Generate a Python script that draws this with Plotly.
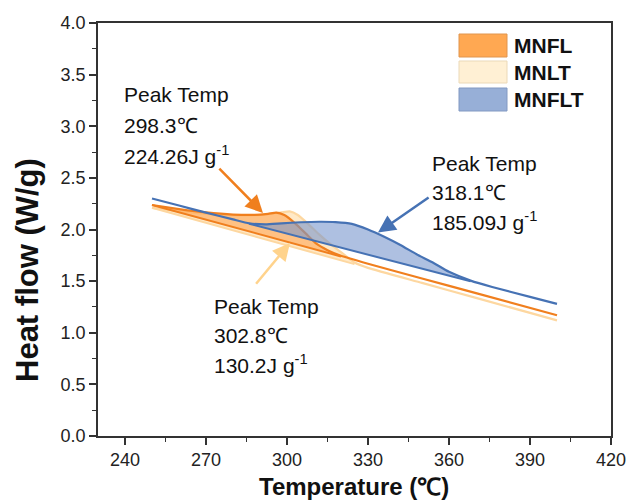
import plotly.graph_objects as go

# ---- data ----
mnfl_T = [250, 260, 270, 280, 288, 293, 296, 299, 303, 307, 311, 315, 320, 330, 350, 370, 400]
mnfl_Y = [2.237, 2.198, 2.165, 2.145, 2.142, 2.152, 2.163, 2.140, 2.060, 1.960, 1.860, 1.800, 1.745, 1.668, 1.526, 1.384, 1.170]
mnfl_base_T = [250, 320]
mnfl_base_Y = [2.237, 1.739]

mnlt_T = [250, 260, 270, 280, 288, 294, 298, 301, 304, 308, 312, 316, 320, 325, 330, 350, 370, 400]
mnlt_Y = [2.210, 2.178, 2.152, 2.138, 2.138, 2.152, 2.166, 2.175, 2.140, 2.050, 1.950, 1.860, 1.780, 1.680, 1.628, 1.483, 1.338, 1.120]
mnlt_base_T = [250, 325]
mnlt_base_Y = [2.210, 1.665]

mnflt_T = [250, 260, 270, 280, 286, 292, 298, 305, 312, 318, 324, 330, 336, 342, 348, 354, 360, 368, 376, 390, 400]
mnflt_Y = [2.300, 2.232, 2.164, 2.098, 2.060, 2.050, 2.060, 2.070, 2.075, 2.072, 2.055, 2.000, 1.930, 1.850, 1.760, 1.680, 1.590, 1.505, 1.443, 1.348, 1.280]
mnflt_base_T = [286, 368]
mnflt_base_Y = [2.055, 1.498]

series_names = ["MNFL", "MNLT", "MNFLT"]
peak_labels = [
    ("Peak Temp", "298.3\u2103", "224.26J g<sup>-1</sup>"),
    ("Peak Temp", "302.8\u2103", "130.2J g<sup>-1</sup>"),
    ("Peak Temp", "318.1\u2103", "185.09J g<sup>-1</sup>"),
]

x_ticks = [240, 270, 300, 330, 360, 390, 420]
y_ticks = [0.0, 0.5, 1.0, 1.5, 2.0, 2.5, 3.0, 3.5, 4.0]

# ---- styles ----
line_cols = ["#F07F1E", "#FDD7A0", "#4672B4"]
fill_cols = ["rgba(255,160,75,0.55)", "rgba(255,228,185,0.8)", "rgba(120,150,205,0.6)"]
swatch_cols = ["#FFA852", "#FFF0D4", "#97AFD7"]
swatch_border = ["#E0954F", "#EBD9B8", "#8299C2"]

FONT = "Liberation Sans, Arial, sans-serif"

fig = go.Figure()

curves = [
    (mnfl_T, mnfl_Y, mnfl_base_T, mnfl_base_Y),
    (mnlt_T, mnlt_Y, mnlt_base_T, mnlt_base_Y),
    (mnflt_T, mnflt_Y, mnflt_base_T, mnflt_base_Y),
]

# draw pale MNLT first, then MNFL, then MNFLT on top
for i in [1, 0, 2]:
    T, Y, bT, bY = curves[i]
    seg = [(t, y) for t, y in zip(T, Y) if bT[0] <= t <= bT[1]]
    px = [t for t, _ in seg] + [bT[1], bT[0]]
    py = [y for _, y in seg] + [bY[1], bY[0]]
    fig.add_trace(go.Scatter(x=px, y=py, mode="lines", fill="toself",
                             fillcolor=fill_cols[i], line=dict(width=0),
                             showlegend=False, hoverinfo="skip"))
    fig.add_trace(go.Scatter(x=bT, y=bY, mode="lines",
                             line=dict(color=line_cols[i], width=2),
                             showlegend=False))
    fig.add_trace(go.Scatter(x=T, y=Y, mode="lines", name=series_names[i],
                             line=dict(color=line_cols[i], width=2.2, shape="spline", smoothing=0.5),
                             showlegend=False))

annotations = []

L, R, TOP, BOT = 98, 611, 23, 436
W, H = R - L, BOT - TOP
def pxx(p):
    return (p - L) / W
def pxy(p):
    return (BOT - p) / H

def add_label(xp, yps, texts):
    for yp, t in zip(yps, texts):
        annotations.append(dict(x=pxx(xp), y=pxy(yp), xref="paper", yref="paper", text=t,
                                showarrow=False, xanchor="left", yanchor="middle",
                                font=dict(family=FONT, size=21, color="#111")))

add_label(122, [94, 125, 155], peak_labels[0])
add_label(212, [306, 335, 364], peak_labels[1])
add_label(430, [163, 192, 221], peak_labels[2])

arrows = [
    (274.4, 2.605, 291.1, 2.16, line_cols[0]),
    (288.1, 1.46, 301.1, 1.87, "#FFD38C"),
    (353.0, 2.32, 333.7, 1.97, line_cols[2]),
]
for ax_, ay_, x_, y_, c in arrows:
    annotations.append(dict(x=x_, y=y_, ax=ax_, ay=ay_, xref="x", yref="y",
                            axref="x", ayref="y", text="", showarrow=True,
                            arrowhead=2, arrowsize=1.4, arrowwidth=2.5, arrowcolor=c))

# axis titles
annotations.append(dict(x=pxx(354), y=pxy(486), xref="paper", yref="paper",
                        text="<b>Temperature (\u2103)</b>", showarrow=False,
                        xanchor="center", yanchor="middle",
                        font=dict(family=FONT, size=24, color="#111")))
annotations.append(dict(x=pxx(27), y=pxy(270), xref="paper", yref="paper",
                        text="<b>Heat flow (W/g)</b>", showarrow=False, textangle=-90,
                        xanchor="center", yanchor="middle",
                        font=dict(family=FONT, size=31, color="#111")))

# manual legend
shapes = []
rows = [(34, 57), (61, 83), (88, 111)]
for i, (y0, y1) in enumerate(rows):
    shapes.append(dict(type="rect", xref="paper", yref="paper",
                       x0=pxx(459), x1=pxx(507), y0=pxy(y1), y1=pxy(y0),
                       fillcolor=swatch_cols[i], line=dict(color=swatch_border[i], width=1)))
    annotations.append(dict(x=pxx(512), y=pxy((y0 + y1) / 2), xref="paper", yref="paper",
                            text="<b>%s</b>" % series_names[i], showarrow=False,
                            xanchor="left", yanchor="middle",
                            font=dict(family=FONT, size=21, color="#111")))

fig.update_layout(
    width=629, height=501,
    margin=dict(l=98, r=18, t=23, b=65, autoexpand=False),
    paper_bgcolor="white", plot_bgcolor="white",
    font=dict(family=FONT, size=18, color="#222"),
    showlegend=False,
    annotations=annotations,
    shapes=shapes,
)
fig.update_xaxes(
    range=[230, 420], tickvals=x_ticks, ticktext=[str(v) for v in x_ticks],
    showline=True, linecolor="#333", linewidth=1.5, mirror=True,
    ticks="outside", ticklen=7, tickwidth=1.5, tickcolor="#333",
    minor=dict(dtick=15, tick0=240, ticks="outside", ticklen=4, tickwidth=1.2, tickcolor="#333"),
    showgrid=False, zeroline=False, automargin=False,
    tickfont=dict(size=18),
)
fig.update_yaxes(
    range=[0, 4], tickvals=y_ticks, ticktext=["%.1f" % v for v in y_ticks],
    showline=True, linecolor="#333", linewidth=1.5, mirror=True,
    ticks="outside", ticklen=7, tickwidth=1.5, tickcolor="#333",
    minor=dict(dtick=0.25, tick0=0, ticks="outside", ticklen=4, tickwidth=1.2, tickcolor="#333"),
    showgrid=False, zeroline=False, automargin=False,
    tickfont=dict(size=18),
)

fig.write_html("out.html", config={"displayModeBar": False},
               post_script="document.body.style.margin='0px';document.body.style.padding='0px';")
